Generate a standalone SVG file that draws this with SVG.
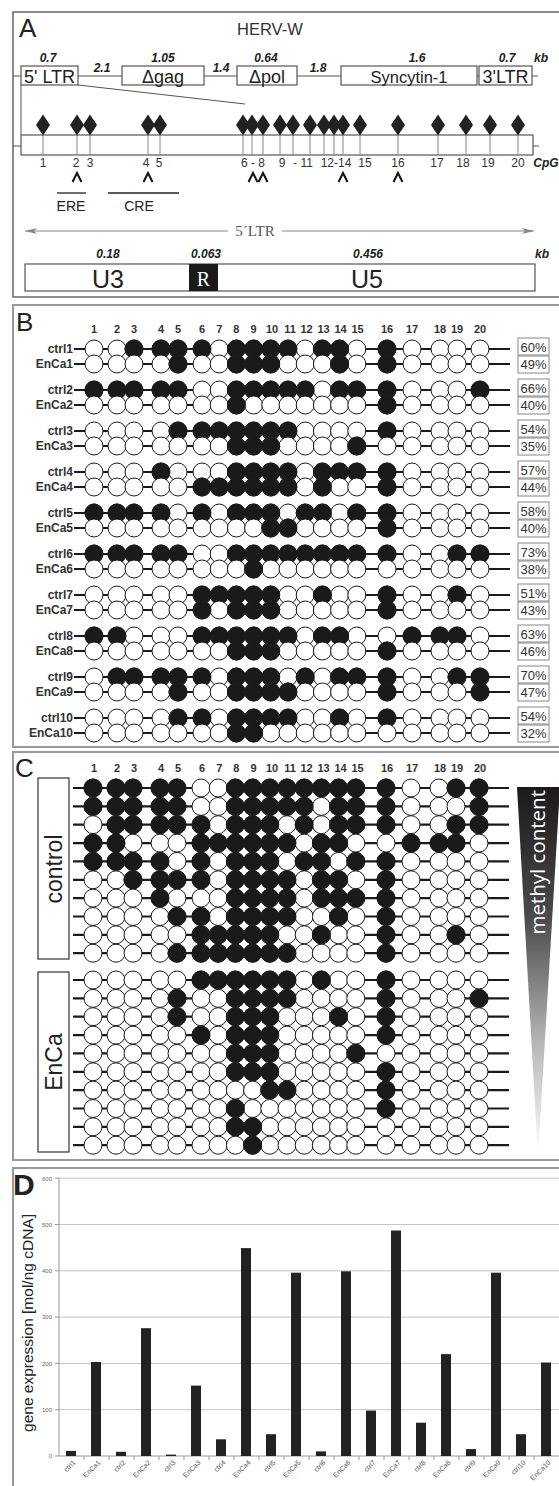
<svg xmlns="http://www.w3.org/2000/svg" xmlns:xlink="http://www.w3.org/1999/xlink" width="559" height="1486" viewBox="0 0 559 1486">
<style>
text{font-family:"Liberation Sans",Arial,sans-serif;}
.w{fill:#fff;stroke:#1a1a1a;stroke-width:1}
.b{fill:#1a1a1a;stroke:#1a1a1a;stroke-width:1}
.rl{stroke:#1a1a1a;stroke-width:2.2}
.pl{font-size:26px;fill:#222}
.kb{font-size:12px;font-weight:bold;font-style:italic;fill:#222;text-anchor:middle}
.gb{fill:#fff;stroke:#555;stroke-width:1.2}
.gt{font-size:18px;fill:#222;text-anchor:middle}
.num{font-size:12px;fill:#333;text-anchor:middle}
.st{stroke:#888;stroke-width:1}
.hd{font-size:11px;font-weight:bold;fill:#333;text-anchor:middle}
.lb{font-size:12px;font-weight:bold;fill:#333;text-anchor:end}
.pb{fill:#fff;stroke:#888;stroke-width:1}
.pt{font-size:13px;fill:#333;text-anchor:middle}
.grid{stroke:#c4c4c4;stroke-width:1}
.ax{font-size:6px;fill:#666;text-anchor:end}
.xl{font-size:7px;fill:#555;text-anchor:end}
.bar{fill:#222}
</style>
<defs>
<marker id="ah" viewBox="0 0 12 6" refX="12" refY="3" markerWidth="12" markerHeight="6" markerUnits="userSpaceOnUse" orient="auto-start-reverse"><path d="M0,0 L12,3 L0,6 L3,3Z" fill="#888"/></marker>
<linearGradient id="gr" x1="0" y1="0" x2="0" y2="1"><stop offset="0" stop-color="#1a1a1a"/><stop offset="0.35" stop-color="#4a4a4a"/><stop offset="0.7" stop-color="#b8b8b8"/><stop offset="1" stop-color="#ffffff"/></linearGradient>
<path id="dm" d="M0,-10.5 L7,0 L0,10.5 L-7,0Z" fill="#222"/>
<g id="row"><line x1="74" y1="0" x2="510" y2="0" class="rl"/>
<circle class="w" r="9" cx="94"/><circle class="w" r="9" cx="117"/><circle class="w" r="9" cx="134"/><circle class="w" r="9" cx="161"/><circle class="w" r="9" cx="178"/><circle class="w" r="9" cx="202"/><circle class="w" r="9" cx="219.2"/><circle class="w" r="9" cx="236.4"/><circle class="w" r="9" cx="253.6"/><circle class="w" r="9" cx="270.8"/><circle class="w" r="9" cx="288"/><circle class="w" r="9" cx="305.2"/><circle class="w" r="9" cx="322.4"/><circle class="w" r="9" cx="339.6"/><circle class="w" r="9" cx="356.8"/><circle class="w" r="9" cx="387"/><circle class="w" r="9" cx="412"/><circle class="w" r="9" cx="440"/><circle class="w" r="9" cx="457"/><circle class="w" r="9" cx="480"/></g>
<circle id="k1" class="b" r="9" cx="94"/><circle id="k2" class="b" r="9" cx="117"/><circle id="k3" class="b" r="9" cx="134"/><circle id="k4" class="b" r="9" cx="161"/><circle id="k5" class="b" r="9" cx="178"/><circle id="k6" class="b" r="9" cx="202"/><circle id="k7" class="b" r="9" cx="219.2"/><circle id="k8" class="b" r="9" cx="236.4"/><circle id="k9" class="b" r="9" cx="253.6"/><circle id="k10" class="b" r="9" cx="270.8"/><circle id="k11" class="b" r="9" cx="288"/><circle id="k12" class="b" r="9" cx="305.2"/><circle id="k13" class="b" r="9" cx="322.4"/><circle id="k14" class="b" r="9" cx="339.6"/><circle id="k15" class="b" r="9" cx="356.8"/><circle id="k16" class="b" r="9" cx="387"/><circle id="k17" class="b" r="9" cx="412"/><circle id="k18" class="b" r="9" cx="440"/><circle id="k19" class="b" r="9" cx="457"/><circle id="k20" class="b" r="9" cx="480"/>
<g id="c1"><use href="#row"/><use href="#k3"/><use href="#k4"/><use href="#k5"/><use href="#k6"/><use href="#k8"/><use href="#k9"/><use href="#k10"/><use href="#k11"/><use href="#k13"/><use href="#k14"/><use href="#k16"/></g>
<g id="e1"><use href="#row"/><use href="#k5"/><use href="#k8"/><use href="#k9"/><use href="#k10"/><use href="#k14"/><use href="#k16"/></g>
<g id="c2"><use href="#row"/><use href="#k1"/><use href="#k2"/><use href="#k3"/><use href="#k4"/><use href="#k5"/><use href="#k8"/><use href="#k9"/><use href="#k10"/><use href="#k11"/><use href="#k12"/><use href="#k14"/><use href="#k15"/><use href="#k16"/><use href="#k20"/></g>
<g id="e2"><use href="#row"/><use href="#k8"/><use href="#k16"/></g>
<g id="c3"><use href="#row"/><use href="#k5"/><use href="#k6"/><use href="#k7"/><use href="#k8"/><use href="#k9"/><use href="#k10"/><use href="#k11"/><use href="#k16"/></g>
<g id="e3"><use href="#row"/><use href="#k8"/><use href="#k9"/><use href="#k10"/><use href="#k15"/></g>
<g id="c4"><use href="#row"/><use href="#k4"/><use href="#k8"/><use href="#k9"/><use href="#k10"/><use href="#k11"/><use href="#k13"/><use href="#k14"/><use href="#k15"/><use href="#k16"/></g>
<g id="e4"><use href="#row"/><use href="#k6"/><use href="#k7"/><use href="#k8"/><use href="#k9"/><use href="#k10"/><use href="#k11"/><use href="#k13"/><use href="#k16"/></g>
<g id="c5"><use href="#row"/><use href="#k1"/><use href="#k2"/><use href="#k3"/><use href="#k4"/><use href="#k6"/><use href="#k8"/><use href="#k9"/><use href="#k10"/><use href="#k12"/><use href="#k13"/><use href="#k15"/><use href="#k16"/></g>
<g id="e5"><use href="#row"/><use href="#k10"/><use href="#k11"/><use href="#k16"/></g>
<g id="c6"><use href="#row"/><use href="#k1"/><use href="#k2"/><use href="#k3"/><use href="#k4"/><use href="#k5"/><use href="#k8"/><use href="#k9"/><use href="#k10"/><use href="#k11"/><use href="#k12"/><use href="#k13"/><use href="#k14"/><use href="#k15"/><use href="#k16"/><use href="#k19"/><use href="#k20"/></g>
<g id="e6"><use href="#row"/><use href="#k9"/></g>
<g id="c7"><use href="#row"/><use href="#k6"/><use href="#k7"/><use href="#k8"/><use href="#k9"/><use href="#k10"/><use href="#k13"/><use href="#k16"/><use href="#k19"/></g>
<g id="e7"><use href="#row"/><use href="#k6"/><use href="#k8"/><use href="#k9"/><use href="#k10"/><use href="#k16"/></g>
<g id="c8"><use href="#row"/><use href="#k1"/><use href="#k2"/><use href="#k6"/><use href="#k7"/><use href="#k8"/><use href="#k9"/><use href="#k10"/><use href="#k11"/><use href="#k13"/><use href="#k14"/><use href="#k17"/><use href="#k18"/><use href="#k19"/></g>
<g id="e8"><use href="#row"/><use href="#k8"/><use href="#k9"/><use href="#k10"/><use href="#k16"/></g>
<g id="c9"><use href="#row"/><use href="#k2"/><use href="#k3"/><use href="#k4"/><use href="#k5"/><use href="#k6"/><use href="#k8"/><use href="#k9"/><use href="#k10"/><use href="#k12"/><use href="#k14"/><use href="#k15"/><use href="#k16"/><use href="#k19"/><use href="#k20"/></g>
<g id="e9"><use href="#row"/><use href="#k5"/><use href="#k8"/><use href="#k9"/><use href="#k10"/><use href="#k11"/><use href="#k16"/><use href="#k20"/></g>
<g id="c10"><use href="#row"/><use href="#k5"/><use href="#k6"/><use href="#k8"/><use href="#k9"/><use href="#k10"/><use href="#k11"/><use href="#k14"/><use href="#k16"/></g>
<g id="e10"><use href="#row"/><use href="#k8"/><use href="#k9"/></g>
</defs>
<rect width="559" height="1486" fill="#fff"/>

<!-- PANEL A -->
<g id="panelA">
<rect x="13" y="12" width="560" height="285" fill="none" stroke="#666" stroke-width="1.5"/>
<text class="pl" x="19" y="37">A</text>
<text x="237" y="35" font-size="16.5" fill="#333">HERV-W</text>
<g id="geneTrack">
<line x1="13" y1="76" x2="538" y2="76" stroke="#555" stroke-width="1.2"/>
<line x1="21" y1="85" x2="21" y2="135" stroke="#555" stroke-width="1"/>
<line x1="78" y1="85" x2="245" y2="104" stroke="#555" stroke-width="1"/>
<rect class="gb" x="21" y="66" width="57" height="19"/>
<rect class="gb" x="122" y="66" width="82" height="19"/>
<rect class="gb" x="237" y="66" width="60" height="19"/>
<rect class="gb" x="341" y="66" width="136" height="19"/>
<rect class="gb" x="479" y="66" width="53" height="19"/>
<text class="gt" x="49.5" y="83">5' LTR</text>
<text class="gt" x="163" y="83">Δgag</text>
<text class="gt" x="267" y="83">Δpol</text>
<text class="gt" x="409" y="83" style="font-size:16.5px">Syncytin-1</text>
<text class="gt" x="505.5" y="83">3'LTR</text>
<text class="kb" x="48" y="62">0.7</text>
<text class="kb" x="102" y="72">2.1</text>
<text class="kb" x="163" y="62">1.05</text>
<text class="kb" x="221" y="72">1.4</text>
<text class="kb" x="266" y="62">0.64</text>
<text class="kb" x="318" y="72">1.8</text>
<text class="kb" x="417" y="62">1.6</text>
<text class="kb" x="507" y="62">0.7</text>
<text class="kb" x="541" y="62">kb</text>
</g>
<g id="cpgMap">
<line x1="13" y1="146" x2="539" y2="146" stroke="#555" stroke-width="1.2"/>
<rect x="21" y="135" width="512" height="20" fill="#fff" stroke="#555" stroke-width="1.2"/>
<g class="st">
<line x1="43" y1="125" x2="43" y2="155"/><line x1="77" y1="125" x2="77" y2="155"/><line x1="90" y1="125" x2="90" y2="155"/><line x1="148" y1="125" x2="148" y2="155"/><line x1="160" y1="125" x2="160" y2="155"/><line x1="243" y1="125" x2="243" y2="155"/><line x1="252" y1="125" x2="252" y2="155"/><line x1="263" y1="125" x2="263" y2="155"/><line x1="280" y1="125" x2="280" y2="155"/><line x1="293" y1="125" x2="293" y2="155"/><line x1="310" y1="125" x2="310" y2="155"/><line x1="324" y1="125" x2="324" y2="155"/><line x1="334" y1="125" x2="334" y2="155"/><line x1="343" y1="125" x2="343" y2="155"/><line x1="360" y1="125" x2="360" y2="155"/><line x1="398" y1="125" x2="398" y2="155"/><line x1="438" y1="125" x2="438" y2="155"/><line x1="466" y1="125" x2="466" y2="155"/><line x1="490" y1="125" x2="490" y2="155"/><line x1="518" y1="125" x2="518" y2="155"/>
</g>
<use href="#dm" x="43" y="125"/><use href="#dm" x="77" y="125"/><use href="#dm" x="90" y="125"/><use href="#dm" x="148" y="125"/><use href="#dm" x="160" y="125"/><use href="#dm" x="243" y="125"/><use href="#dm" x="252" y="125"/><use href="#dm" x="263" y="125"/><use href="#dm" x="280" y="125"/><use href="#dm" x="293" y="125"/><use href="#dm" x="310" y="125"/><use href="#dm" x="324" y="125"/><use href="#dm" x="334" y="125"/><use href="#dm" x="343" y="125"/><use href="#dm" x="360" y="125"/><use href="#dm" x="398" y="125"/><use href="#dm" x="438" y="125"/><use href="#dm" x="466" y="125"/><use href="#dm" x="490" y="125"/><use href="#dm" x="518" y="125"/>
<text class="num" x="43" y="167">1</text>
<text class="num" x="76" y="167">2</text>
<text class="num" x="90" y="167">3</text>
<text class="num" x="146" y="167">4</text>
<text class="num" x="159" y="167">5</text>
<text class="num" x="253" y="167">6 - 8</text>
<text class="num" x="282" y="167">9</text>
<text class="num" x="303" y="167">- 11</text>
<text class="num" x="336" y="167">12-14</text>
<text class="num" x="365" y="167">15</text>
<text class="num" x="398" y="167">16</text>
<text class="num" x="437" y="167">17</text>
<text class="num" x="463" y="167">18</text>
<text class="num" x="488" y="167">19</text>
<text class="num" x="518" y="167">20</text>
<text class="kb" x="546" y="167">CpG</text>
<g fill="none" stroke="#111" stroke-width="2">
<polyline points="72.5,182 77,173 81.5,182"/><polyline points="143.5,182 148,173 152.5,182"/><polyline points="248.5,182 253,173 257.5,182"/><polyline points="258.5,182 263,173 267.5,182"/><polyline points="338.5,182 343,173 347.5,182"/><polyline points="393.5,182 398,173 402.5,182"/>
</g>
<line x1="57" y1="193" x2="86" y2="193" stroke="#222" stroke-width="1.3"/>
<line x1="108" y1="193" x2="179" y2="193" stroke="#222" stroke-width="1.3"/>
<text x="71" y="211" font-size="14" fill="#222" text-anchor="middle">ERE</text>
<text x="139" y="211" font-size="14" fill="#222" text-anchor="middle">CRE</text>
</g>
<g id="ltrDetail">
<line x1="25" y1="231" x2="534" y2="231" stroke="#888" stroke-width="1" marker-start="url(#ah)" marker-end="url(#ah)"/>
<rect x="228" y="222" width="54" height="16" fill="#fff"/>
<text x="255" y="236" font-size="15" fill="#555" text-anchor="middle" style="font-family:'Liberation Serif','Times New Roman',serif">5´LTR</text>
<text class="kb" x="108" y="258">0.18</text>
<text class="kb" x="206" y="258">0.063</text>
<text class="kb" x="368" y="258">0.456</text>
<text class="kb" x="542" y="258">kb</text>
<rect x="25" y="264" width="510" height="27" fill="#fff" stroke="#555" stroke-width="1.2"/>
<rect x="189" y="264" width="29" height="27" fill="#1a1a1a"/>
<text x="108" y="288" font-size="25" fill="#222" text-anchor="middle">U3</text>
<text x="203.5" y="286" font-size="20" fill="#fff" text-anchor="middle" style="font-family:'Liberation Serif','Times New Roman',serif">R</text>
<text x="367" y="288" font-size="25" fill="#222" text-anchor="middle">U5</text>
</g>
</g>

<!-- PANEL B -->
<g id="panelB">
<rect x="13" y="305" width="560" height="442" fill="none" stroke="#999" stroke-width="2"/>
<text class="pl" x="16" y="331">B</text>
<g id="headerB">
<text class="hd" x="94" y="333">1</text><text class="hd" x="117" y="333">2</text><text class="hd" x="134" y="333">3</text><text class="hd" x="161" y="333">4</text><text class="hd" x="178" y="333">5</text><text class="hd" x="202" y="333">6</text><text class="hd" x="219.2" y="333">7</text><text class="hd" x="236.4" y="333">8</text><text class="hd" x="253.6" y="333">9</text><text class="hd" x="272" y="333">10</text><text class="hd" x="290" y="333">11</text><text class="hd" x="306.5" y="333">12</text><text class="hd" x="323.5" y="333">13</text><text class="hd" x="340.5" y="333">14</text><text class="hd" x="357.5" y="333">15</text><text class="hd" x="387" y="333">16</text><text class="hd" x="412" y="333">17</text><text class="hd" x="440" y="333">18</text><text class="hd" x="457" y="333">19</text><text class="hd" x="480" y="333">20</text>
</g>
<g id="rowsB">
<use href="#c1" y="349"/><use href="#e1" y="364"/>
<use href="#c2" y="390"/><use href="#e2" y="405"/>
<use href="#c3" y="431"/><use href="#e3" y="446"/>
<use href="#c4" y="472"/><use href="#e4" y="487"/>
<use href="#c5" y="513"/><use href="#e5" y="528"/>
<use href="#c6" y="554"/><use href="#e6" y="569"/>
<use href="#c7" y="595"/><use href="#e7" y="610"/>
<use href="#c8" y="636"/><use href="#e8" y="651"/>
<use href="#c9" y="677"/><use href="#e9" y="692"/>
<use href="#c10" y="718"/><use href="#e10" y="733"/>
</g>
<g id="labelsB">
<text class="lb" x="73" y="353">ctrl1</text><text class="lb" x="73" y="368">EnCa1</text>
<text class="lb" x="73" y="394">ctrl2</text><text class="lb" x="73" y="409">EnCa2</text>
<text class="lb" x="73" y="435">ctrl3</text><text class="lb" x="73" y="450">EnCa3</text>
<text class="lb" x="73" y="476">ctrl4</text><text class="lb" x="73" y="491">EnCa4</text>
<text class="lb" x="73" y="517">ctrl5</text><text class="lb" x="73" y="532">EnCa5</text>
<text class="lb" x="73" y="558">ctrl6</text><text class="lb" x="73" y="573">EnCa6</text>
<text class="lb" x="73" y="599">ctrl7</text><text class="lb" x="73" y="614">EnCa7</text>
<text class="lb" x="73" y="640">ctrl8</text><text class="lb" x="73" y="655">EnCa8</text>
<text class="lb" x="73" y="681">ctrl9</text><text class="lb" x="73" y="696">EnCa9</text>
<text class="lb" x="73" y="722">ctrl10</text><text class="lb" x="73" y="737">EnCa10</text>
</g>
<g id="percentB">
<rect class="pb" x="518" y="338" width="31" height="17"/><rect class="pb" x="518" y="356" width="31" height="17"/><text class="pt" x="533.5" y="351.5">60%</text><text class="pt" x="533.5" y="369">49%</text>
<rect class="pb" x="518" y="379" width="31" height="17"/><rect class="pb" x="518" y="397" width="31" height="17"/><text class="pt" x="533.5" y="392.5">66%</text><text class="pt" x="533.5" y="410">40%</text>
<rect class="pb" x="518" y="420" width="31" height="17"/><rect class="pb" x="518" y="438" width="31" height="17"/><text class="pt" x="533.5" y="433.5">54%</text><text class="pt" x="533.5" y="451">35%</text>
<rect class="pb" x="518" y="461" width="31" height="17"/><rect class="pb" x="518" y="479" width="31" height="17"/><text class="pt" x="533.5" y="474.5">57%</text><text class="pt" x="533.5" y="492">44%</text>
<rect class="pb" x="518" y="502" width="31" height="17"/><rect class="pb" x="518" y="520" width="31" height="17"/><text class="pt" x="533.5" y="515.5">58%</text><text class="pt" x="533.5" y="533">40%</text>
<rect class="pb" x="518" y="543" width="31" height="17"/><rect class="pb" x="518" y="561" width="31" height="17"/><text class="pt" x="533.5" y="556.5">73%</text><text class="pt" x="533.5" y="574">38%</text>
<rect class="pb" x="518" y="584" width="31" height="17"/><rect class="pb" x="518" y="602" width="31" height="17"/><text class="pt" x="533.5" y="597.5">51%</text><text class="pt" x="533.5" y="615">43%</text>
<rect class="pb" x="518" y="625" width="31" height="17"/><rect class="pb" x="518" y="643" width="31" height="17"/><text class="pt" x="533.5" y="638.5">63%</text><text class="pt" x="533.5" y="656">46%</text>
<rect class="pb" x="518" y="666" width="31" height="17"/><rect class="pb" x="518" y="684" width="31" height="17"/><text class="pt" x="533.5" y="679.5">70%</text><text class="pt" x="533.5" y="697">47%</text>
<rect class="pb" x="518" y="707" width="31" height="17"/><rect class="pb" x="518" y="725" width="31" height="17"/><text class="pt" x="533.5" y="720.5">54%</text><text class="pt" x="533.5" y="738">32%</text>
</g>
</g>

<!-- PANEL C -->
<g id="panelC">
<rect x="13" y="752" width="560" height="408" fill="none" stroke="#999" stroke-width="2"/>
<text class="pl" x="15" y="777">C</text>
<g id="headerC">
<text class="hd" x="94" y="772">1</text><text class="hd" x="117" y="772">2</text><text class="hd" x="134" y="772">3</text><text class="hd" x="161" y="772">4</text><text class="hd" x="178" y="772">5</text><text class="hd" x="202" y="772">6</text><text class="hd" x="219.2" y="772">7</text><text class="hd" x="236.4" y="772">8</text><text class="hd" x="253.6" y="772">9</text><text class="hd" x="272" y="772">10</text><text class="hd" x="290" y="772">11</text><text class="hd" x="306.5" y="772">12</text><text class="hd" x="323.5" y="772">13</text><text class="hd" x="340.5" y="772">14</text><text class="hd" x="357.5" y="772">15</text><text class="hd" x="387" y="772">16</text><text class="hd" x="412" y="772">17</text><text class="hd" x="440" y="772">18</text><text class="hd" x="457" y="772">19</text><text class="hd" x="480" y="772">20</text>
</g>
<g id="controlGroup">
<rect x="38" y="778" width="31" height="181" fill="#fff" stroke="#333" stroke-width="1.2"/>
<text transform="translate(62,869) rotate(-90)" font-size="23" fill="#222" text-anchor="middle">control</text>
<use href="#c6" x="-1" y="788"/><use href="#c2" x="-1" y="806.4"/><use href="#c9" x="-1" y="824.7"/><use href="#c8" x="-1" y="843.1"/><use href="#c5" x="-1" y="861.4"/><use href="#c1" x="-1" y="879.8"/><use href="#c4" x="-1" y="898.1"/><use href="#c10" x="-1" y="916.5"/><use href="#c7" x="-1" y="934.8"/><use href="#c3" x="-1" y="953.2"/>
</g>
<g id="encaGroup">
<rect x="38" y="972" width="31" height="180" fill="#fff" stroke="#333" stroke-width="1.2"/>
<text transform="translate(62,1062) rotate(-90)" font-size="23" fill="#222" text-anchor="middle">EnCa</text>
<use href="#e4" x="-1" y="980"/><use href="#e9" x="-1" y="998.4"/><use href="#e1" x="-1" y="1016.7"/><use href="#e7" x="-1" y="1035.1"/><use href="#e3" x="-1" y="1053.4"/><use href="#e8" x="-1" y="1071.8"/><use href="#e5" x="-1" y="1090.1"/><use href="#e2" x="-1" y="1108.5"/><use href="#e10" x="-1" y="1126.8"/><use href="#e6" x="-1" y="1145.2"/>
</g>
<g id="methylScale">
<polygon points="517,787 560,787 538,1157" fill="url(#gr)"/>
<text transform="translate(545,790) rotate(-90)" font-size="20.5" fill="#fff" text-anchor="end" style="font-family:'Open Sans','Liberation Sans',sans-serif">methyl content</text>
</g>
</g>

<!-- PANEL D -->
<g id="panelD">
<rect x="13" y="1168" width="560" height="330" fill="none" stroke="#999" stroke-width="2"/>
<text x="13" y="1195" font-size="30" font-weight="bold" fill="#222">D</text>
<g id="gridD">
<line class="grid" x1="59" y1="1178.2" x2="559" y2="1178.2"/><line class="grid" x1="59" y1="1224.5" x2="559" y2="1224.5"/><line class="grid" x1="59" y1="1270.8" x2="559" y2="1270.8"/><line class="grid" x1="59" y1="1317.1" x2="559" y2="1317.1"/><line class="grid" x1="59" y1="1363.4" x2="559" y2="1363.4"/><line class="grid" x1="59" y1="1409.7" x2="559" y2="1409.7"/>
<line x1="59" y1="1178" x2="59" y2="1456" stroke="#999" stroke-width="1"/>
<line x1="59" y1="1456" x2="559" y2="1456" stroke="#999" stroke-width="1"/>
<g stroke="#999" stroke-width="1">
<line x1="55" y1="1178.2" x2="59" y2="1178.2"/><line x1="55" y1="1224.5" x2="59" y2="1224.5"/><line x1="55" y1="1270.8" x2="59" y2="1270.8"/><line x1="55" y1="1317.1" x2="59" y2="1317.1"/><line x1="55" y1="1363.4" x2="59" y2="1363.4"/><line x1="55" y1="1409.7" x2="59" y2="1409.7"/><line x1="55" y1="1456" x2="59" y2="1456"/>
<line x1="84" y1="1456" x2="84" y2="1460"/><line x1="109" y1="1456" x2="109" y2="1460"/><line x1="134" y1="1456" x2="134" y2="1460"/><line x1="159" y1="1456" x2="159" y2="1460"/><line x1="184" y1="1456" x2="184" y2="1460"/><line x1="209" y1="1456" x2="209" y2="1460"/><line x1="234" y1="1456" x2="234" y2="1460"/><line x1="259" y1="1456" x2="259" y2="1460"/><line x1="284" y1="1456" x2="284" y2="1460"/><line x1="309" y1="1456" x2="309" y2="1460"/><line x1="334" y1="1456" x2="334" y2="1460"/><line x1="359" y1="1456" x2="359" y2="1460"/><line x1="384" y1="1456" x2="384" y2="1460"/><line x1="409" y1="1456" x2="409" y2="1460"/><line x1="434" y1="1456" x2="434" y2="1460"/><line x1="459" y1="1456" x2="459" y2="1460"/><line x1="484" y1="1456" x2="484" y2="1460"/><line x1="509" y1="1456" x2="509" y2="1460"/><line x1="534" y1="1456" x2="534" y2="1460"/>
</g>
<text class="ax" x="52" y="1180.5">600</text><text class="ax" x="52" y="1226.8">500</text><text class="ax" x="52" y="1273.1">400</text><text class="ax" x="52" y="1319.4">300</text><text class="ax" x="52" y="1365.7">200</text><text class="ax" x="52" y="1412">100</text><text class="ax" x="52" y="1458.3">0</text>
</g>
<text transform="translate(33,1323) rotate(-90)" font-size="15.5" fill="#222" text-anchor="middle">gene expression [mol/ng cDNA]</text>
<g id="barsD">
<rect class="bar" x="66" y="1450.9" width="10" height="5.1"/><rect class="bar" x="91" y="1362" width="10" height="94"/><rect class="bar" x="116" y="1451.8" width="10" height="4.2"/><rect class="bar" x="141" y="1328.2" width="10" height="127.8"/><rect class="bar" x="166" y="1454.6" width="10" height="1.4"/><rect class="bar" x="191" y="1385.6" width="10" height="70.4"/><rect class="bar" x="216" y="1439.3" width="10" height="16.7"/><rect class="bar" x="241" y="1248.1" width="10" height="207.9"/><rect class="bar" x="266" y="1434.2" width="10" height="21.8"/><rect class="bar" x="291" y="1272.7" width="10" height="183.3"/><rect class="bar" x="316" y="1451.4" width="10" height="4.6"/><rect class="bar" x="341" y="1271.3" width="10" height="184.7"/><rect class="bar" x="366" y="1410.6" width="10" height="45.4"/><rect class="bar" x="391" y="1230.5" width="10" height="225.5"/><rect class="bar" x="416" y="1422.7" width="10" height="33.3"/><rect class="bar" x="441" y="1354.1" width="10" height="101.9"/><rect class="bar" x="466" y="1449.1" width="10" height="6.9"/><rect class="bar" x="491" y="1272.7" width="10" height="183.3"/><rect class="bar" x="516" y="1434.2" width="10" height="21.8"/><rect class="bar" x="541" y="1362.5" width="10" height="93.5"/>
</g>
<g id="xlabelsD">
<text class="xl" transform="translate(76,1463) rotate(-45)">ctrl1</text><text class="xl" transform="translate(101,1463) rotate(-45)">EnCa1</text><text class="xl" transform="translate(126,1463) rotate(-45)">ctrl2</text><text class="xl" transform="translate(151,1463) rotate(-45)">EnCa2</text><text class="xl" transform="translate(176,1463) rotate(-45)">ctrl3</text><text class="xl" transform="translate(201,1463) rotate(-45)">EnCa3</text><text class="xl" transform="translate(226,1463) rotate(-45)">ctrl4</text><text class="xl" transform="translate(251,1463) rotate(-45)">EnCa4</text><text class="xl" transform="translate(276,1463) rotate(-45)">ctrl5</text><text class="xl" transform="translate(301,1463) rotate(-45)">EnCa5</text><text class="xl" transform="translate(326,1463) rotate(-45)">ctrl6</text><text class="xl" transform="translate(351,1463) rotate(-45)">EnCa6</text><text class="xl" transform="translate(376,1463) rotate(-45)">ctrl7</text><text class="xl" transform="translate(401,1463) rotate(-45)">EnCa7</text><text class="xl" transform="translate(426,1463) rotate(-45)">ctrl8</text><text class="xl" transform="translate(451,1463) rotate(-45)">EnCa8</text><text class="xl" transform="translate(476,1463) rotate(-45)">ctrl9</text><text class="xl" transform="translate(501,1463) rotate(-45)">EnCa9</text><text class="xl" transform="translate(526,1463) rotate(-45)">ctrl10</text><text class="xl" transform="translate(551,1463) rotate(-45)">EnCa10</text>
</g>
</g>
</svg>
